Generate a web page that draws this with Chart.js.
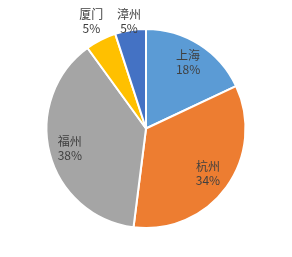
<!DOCTYPE html>
<html>
<head>
<meta charset="utf-8">
<script src="https://cdn.jsdelivr.net/npm/chart.js@4/dist/chart.umd.min.js"></script>
<style>
  html, body { margin: 0; padding: 0; background: #fff; }
  #wrap { width: 292px; height: 257px; }
</style>
</head>
<body>
<div id="wrap"><canvas id="pieChart" width="292" height="257"></canvas></div>
<script>
  // city share data
  const cities = ['上海', '杭州', '福州', '厦门', '漳州'];
  const shares = [18, 34, 38, 5, 5];
  const pctLabels = ['18%', '34%', '38%', '5%', '5%'];
  const colors = ['#5B9BD5', '#ED7D31', '#A5A5A5', '#FFC000', '#4472C4'];

  // label distance from centre as a fraction of radius (small slices sit outside)
  const labelRadius = [0.79, 0.77, 0.79, 1.21, 1.09];

  const sliceLabels = {
    id: 'sliceLabels',
    afterDatasetsDraw(chart) {
      const ctx = chart.ctx;
      const meta = chart.getDatasetMeta(0);
      ctx.save();
      ctx.font = '12px "Noto Sans CJK SC", "Noto Sans", sans-serif';
      ctx.fillStyle = '#404040';
      ctx.textAlign = 'center';
      ctx.textBaseline = 'middle';
      meta.data.forEach(function (arc, i) {
        const mid = (arc.startAngle + arc.endAngle) / 2;
        const r = arc.outerRadius * labelRadius[i];
        const x = arc.x + Math.cos(mid) * r;
        const y = arc.y + Math.sin(mid) * r;
        ctx.fillText(cities[i], x, y - 7);
        ctx.fillText(pctLabels[i], x, y + 7);
      });
      ctx.restore();
    }
  };

  new Chart(document.getElementById('pieChart').getContext('2d'), {
    type: 'pie',
    data: {
      labels: cities,
      datasets: [{
        data: shares,
        backgroundColor: colors,
        borderColor: '#ffffff',
        borderWidth: 2,
        hoverOffset: 0
      }]
    },
    options: {
      responsive: false,
      animation: false,
      layout: { padding: { top: 28, bottom: 28, left: 0, right: 0 } },
      plugins: {
        legend: { display: false },
        tooltip: { enabled: false }
      }
    },
    plugins: [sliceLabels]
  });
</script>
</body>
</html>
